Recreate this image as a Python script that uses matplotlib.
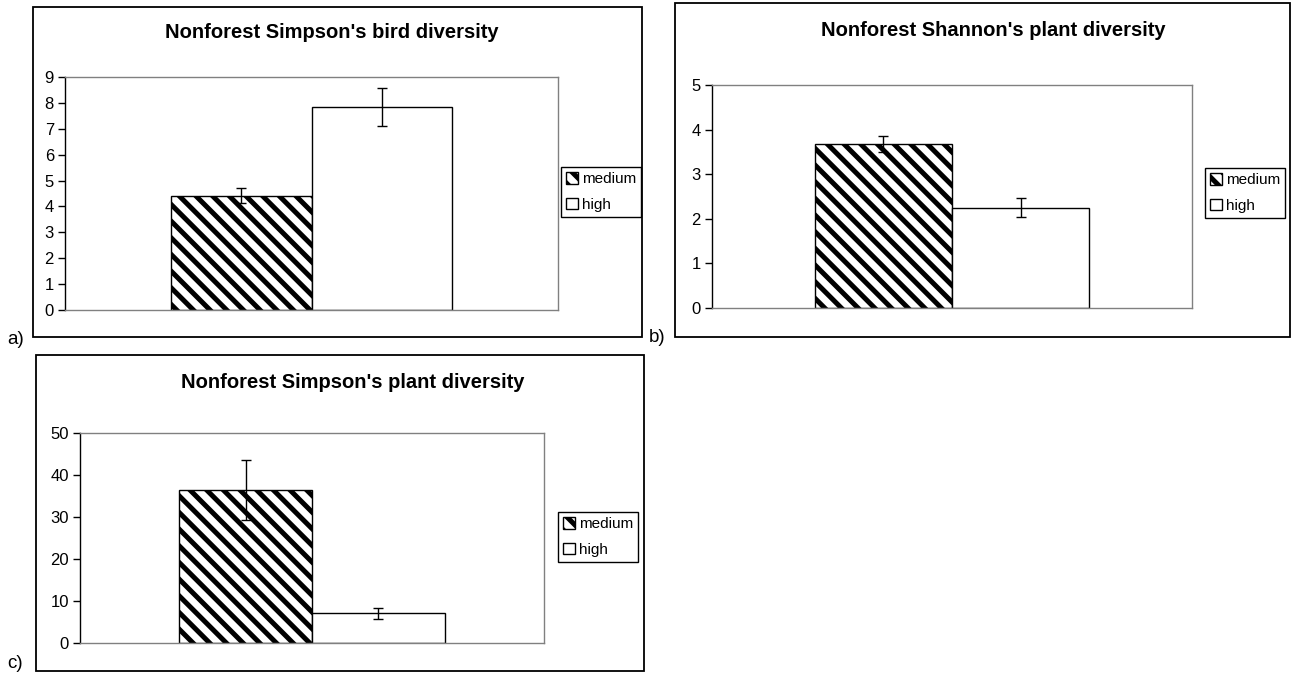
import numpy as np
import matplotlib.pyplot as plt
from matplotlib.patches import Rectangle

plt.rcParams['font.family'] = ['Liberation Sans', 'DejaVu Sans']
plt.rcParams['hatch.linewidth'] = 3.6

W, H = 1293, 675

categories = ['medium', 'high']

bird_simpson = [4.42, 7.83]
bird_simpson_err = [0.30, 0.73]

plant_shannon = [3.67, 2.25]
plant_shannon_err = [0.18, 0.21]

plant_simpson = [36.45, 7.05]
plant_simpson_err = [7.15, 1.40]

titles = ["Nonforest Simpson's bird diversity",
          "Nonforest Shannon's plant diversity",
          "Nonforest Simpson's plant diversity"]


def fx(x):
    return x / W


def fy(y):
    return 1 - y / H


fig = plt.figure(figsize=(W / 100, H / 100), dpi=100)


def frame(x0, y0, x1, y1):
    fig.add_artist(Rectangle((fx(x0), fy(y1)), fx(x1) - fx(x0), fy(y0) - fy(y1),
                             transform=fig.transFigure, fill=False,
                             edgecolor='black', linewidth=1.3))


def panel(box, plot, title, title_xy, vals, errs, ymax, yticks, leg_xy):
    frame(*box)
    l, t, r, b = plot
    ax = fig.add_axes([fx(l), fy(b), fx(r) - fx(l), fy(t) - fy(b)])
    w = 1 / 3.5
    xs = np.array([-w / 2, w / 2])
    h1 = ax.bar(xs[0], vals[0], width=w, color='white', edgecolor='black',
                hatch='\\\\', linewidth=1.0, label=categories[0])
    h2 = ax.bar(xs[1], vals[1], width=w, color='white', edgecolor='black',
                linewidth=1.0, label=categories[1])
    ax.errorbar(xs, vals, yerr=errs, fmt='none', ecolor='black',
                elinewidth=1.0, capsize=3.3, capthick=1.0)
    ax.set_xlim(-0.5, 0.5)
    ax.set_ylim(0, ymax)
    ax.set_yticks(yticks)
    ax.set_xticks([])
    ax.tick_params(axis='y', direction='out', length=5, width=1,
                   labelsize=12, pad=3)
    for s in ['top', 'right', 'bottom']:
        ax.spines[s].set_color('#808080')
        ax.spines[s].set_linewidth(1.0)
    ax.spines['left'].set_color('black')
    ax.spines['left'].set_linewidth(1.0)
    fig.text(fx(title_xy[0]), fy(title_xy[1]), title, ha='center', va='center',
             fontsize=14.5, fontweight='bold')
    leg = ax.legend(handles=[h1, h2], loc='upper left',
                    bbox_to_anchor=(fx(leg_xy[0]), fy(leg_xy[1])),
                    bbox_transform=fig.transFigure, fontsize=11,
                    handlelength=0.75, handleheight=0.75, handletextpad=0.25,
                    borderpad=0.35, labelspacing=0.75, borderaxespad=0,
                    fancybox=False, framealpha=1, edgecolor='black')
    leg.get_frame().set_linewidth(1.0)
    return ax


panel((33, 7, 642, 337), (65, 77, 558, 310), titles[0], (332, 33),
      bird_simpson, bird_simpson_err, 9, range(0, 10), (561, 167))
panel((675, 3, 1290, 337), (712, 85, 1192, 308), titles[1], (993, 31),
      plant_shannon, plant_shannon_err, 5, range(0, 6), (1205, 168))
panel((36, 355, 644, 671), (80, 433, 544, 643), titles[2], (353, 382),
      plant_simpson, plant_simpson_err, 50, range(0, 51, 10), (558, 512))

fig.text(fx(7), fy(339), 'a)', ha='left', va='center', fontsize=13.5)
fig.text(fx(649), fy(337), 'b)', ha='left', va='center', fontsize=13.5)
fig.text(fx(7), fy(664), 'c)', ha='left', va='center', fontsize=13.5)

fig.savefig('out.png', dpi=100, facecolor='white')
